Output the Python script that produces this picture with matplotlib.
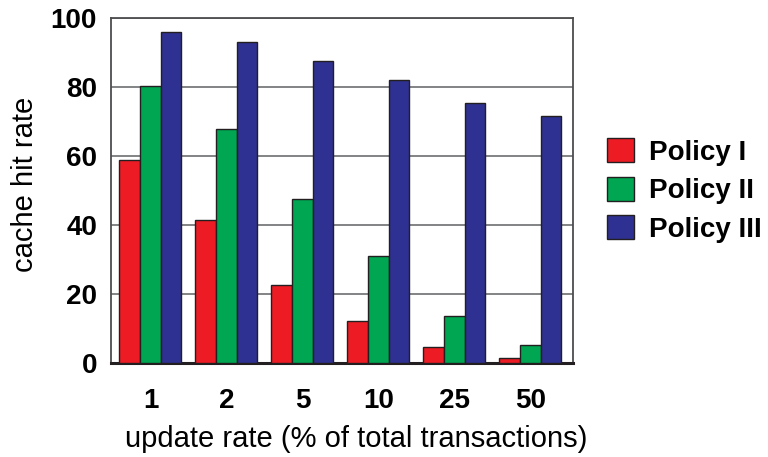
import matplotlib
matplotlib.use('Agg')
import matplotlib.pyplot as plt
import numpy as np

plt.rcParams['font.family'] = ['Liberation Sans', 'DejaVu Sans']

# data
rates = ['1', '2', '5', '10', '25', '50']
policy1 = [58.8, 41.5, 22.5, 12.2, 4.6, 1.4]
policy2 = [80.2, 67.8, 47.5, 31.1, 13.6, 5.2]
policy3 = [95.8, 93.1, 87.4, 82.0, 75.3, 71.7]
series_names = ['Policy I', 'Policy II', 'Policy III']
colors = ['#ED1C24', '#00A651', '#2E3192']

fig = plt.figure(figsize=(7.68, 4.57), dpi=100)
ax = fig.add_axes([0.1445, 0.2057, 0.6016, 0.7549])

x = np.arange(len(rates))
w = 0.272
for i, (vals, name, c) in enumerate(zip([policy1, policy2, policy3], series_names, colors)):
    ax.bar(x + (i - 1) * w, vals, w, color=c, edgecolor='#231F20', linewidth=1.0,
           label=name, zorder=3)

ax.set_xlim(-0.52, 5.56)
ax.set_ylim(0, 100)
ax.set_yticks([0, 20, 40, 60, 80, 100])
ax.set_xticks(x)
ax.set_xticklabels(rates)
ax.yaxis.grid(True, color='#6d6e71', linewidth=1.2, zorder=0)
ax.tick_params(axis='both', length=0, labelsize=20)
ax.tick_params(axis='y', pad=10)
ax.tick_params(axis='x', pad=18)
for lab in ax.get_xticklabels() + ax.get_yticklabels():
    lab.set_fontweight('bold')

for s in ['top', 'right', 'left']:
    ax.spines[s].set_color('#4d4d4f')
    ax.spines[s].set_linewidth(1.3)
ax.spines['bottom'].set_color('#231F20')
ax.spines['bottom'].set_linewidth(2.2)

ax.set_ylabel('cache hit rate', fontsize=21)
ax.yaxis.set_label_coords(-0.156, 0.517)
ax.set_xlabel('update rate (% of total transactions)', fontsize=21)
ax.xaxis.set_label_coords(0.531, -0.18)
ax.xaxis.label.set_va('top')

leg = ax.legend(loc='center left', bbox_to_anchor=(1.02, 0.5), frameon=False,
                prop={'size': 20, 'weight': 'bold'}, handlelength=0.95,
                handleheight=0.95, handletextpad=0.55, labelspacing=0.4)

fig.savefig('out.png', dpi=100)
